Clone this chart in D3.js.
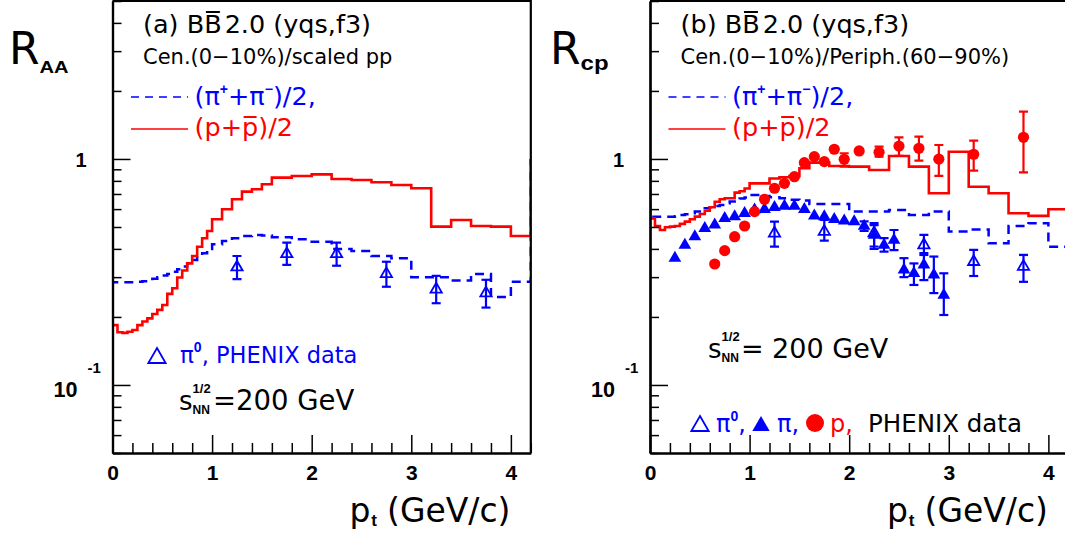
<!DOCTYPE html>
<html><head><meta charset="utf-8">
<script src="https://cdn.jsdelivr.net/npm/d3@7"></script>
<style>body{margin:0;background:#fff}svg{display:block}</style>
</head><body>
<svg id="c" width="1065" height="537"></svg>
<script>
// ---------------- DATA ----------------
const binEdges = [0,0.05,0.1,0.15,0.2,0.25,0.3,0.35,0.4,0.45,0.5,0.55,0.6,0.65,0.7,0.75,0.8,0.85,0.9,0.95,
  1.0,1.1,1.2,1.3,1.4,1.5,1.6,1.8,2.0,2.2,2.4,2.6,2.8,3.0,3.2,3.4,3.6,3.8,4.0,4.2];
// (a) R_AA model histograms
const raaProton = [0.184,0.171,0.170,0.172,0.175,0.184,0.191,0.197,0.206,0.215,0.226,0.253,0.268,0.299,0.321,0.345,0.372,0.409,0.446,0.48,
  0.541,0.599,0.663,0.717,0.734,0.773,
  0.827,0.841,0.855,0.816,0.807,0.789,0.767,0.742,0.502,0.537,0.505,0.502,0.456];
const raaPion = [0.285,0.285,0.285,0.285,0.285,0.286,0.288,0.29,0.295,0.30,0.305,0.31,0.317,0.325,0.334,0.345,0.357,0.37,0.383,0.40,
  0.419,0.433,0.446,0.456,0.461,0.458,
  0.45,0.441,0.43,0.40,0.392,0.372,0.364,0.30,0.30,0.29,0.31,0.245,0.286];
// (b) R_cp model histograms
const rcpProton = [0.546,0.505,0.485,0.499,0.502,0.505,0.516,0.528,0.541,0.556,0.571,0.59,0.611,0.647,0.663,0.67,0.67,0.71,0.72,0.74,
  0.78,0.78,0.82,0.83,0.84,0.91,
  0.963,0.931,0.925,0.894,1.031,0.925,0.705,1.077,0.754,0.705,0.575,0.56,0.599];
const rcpPion = [0.555,0.555,0.555,0.555,0.555,0.558,0.565,0.57,0.575,0.585,0.595,0.605,0.611,0.62,0.626,0.637,0.648,0.659,0.668,0.675,
  0.693,0.686,0.677,0.67,0.66,0.655,
  0.632,0.632,0.585,0.585,0.595,0.565,0.585,0.477,0.487,0.4235,0.505,0.52,0.409];
// PHENIX pi0 data, R_AA
const pi0AaPt  = [1.25,1.75,2.25,2.75,3.25,3.75];
const pi0AaVal = [0.332,0.38,0.38,0.31,0.265,0.255];
const pi0AaLo  = [0.294,0.34,0.337,0.272,0.23,0.22];
const pi0AaHi  = [0.372,0.426,0.426,0.351,0.304,0.292];
// PHENIX pi0 data, R_cp
const pi0CpPt  = [1.25,1.75,2.25,2.75,3.25,3.75];
const pi0CpVal = [0.469,0.477,0.47,0.416,0.351,0.334];
const pi0CpLo  = [0.409,0.435,0.41,0.383,0.3035,0.286];
const pi0CpHi  = [0.528,0.537,0.52,0.461,0.396,0.376];
// PHENIX charged pion R_cp
const piCpPt  = [0.25,0.35,0.45,0.55,0.65,0.75,0.85,0.95,1.05,1.15,1.25,1.35,1.45,1.55,1.65,1.75,1.85,1.95,2.05,2.15,2.25,2.35,2.45,2.55,2.65,2.75,2.85,2.95];
const piCpVal = [0.364,0.416,0.453,0.493,0.511,0.546,0.556,0.575,0.595,0.599,0.611,0.619,0.619,0.599,0.56,0.556,0.541,0.533,0.528,0.505,0.461,0.416,0.438,0.323,0.312,0.34,0.307,0.25];
const piCpLo  = [null,null,null,null,null,null,null,null,null,null,null,null,null,null,null,null,null,null,null,0.48,0.40,0.389,0.395,0.30,0.277,0.291,0.255,0.204];
const piCpHi  = [null,null,null,null,null,null,null,null,null,null,null,null,null,null,null,null,null,null,null,0.53,0.51,0.446,0.485,0.364,0.345,0.376,0.37,0.312];
// PHENIX proton R_cp
const pCpPt  = [0.65,0.75,0.85,0.95,1.05,1.15,1.25,1.35,1.45,1.55,1.65,1.75,1.85,1.95,2.1,2.3,2.5,2.7,2.9,3.25,3.75];
const pCpVal = [0.343,0.393,0.453,0.505,0.585,0.663,0.742,0.78,0.835,0.963,1.024,0.973,1.104,0.997,1.085,1.07,1.14,1.115,0.998,1.049,1.247];
const pCpLo  = [null,null,null,null,null,null,null,null,null,null,null,null,null,0.925,null,1.024,1.031,0.983,0.841,0.888,0.873];
const pCpHi  = [null,null,null,null,null,null,null,null,null,null,null,null,null,1.06,null,1.133,1.247,1.255,1.153,1.205,1.62];
// axis ticks
const xMajor = [0,1,2,3,4];
const xMinor = [0.2,0.4,0.6,0.8,1.2,1.4,1.6,1.8,2.2,2.4,2.6,2.8,3.2,3.4,3.6,3.8,4.2];
const yMajor = [0.1,1];
const yMinor = [0.05,0.06,0.07,0.08,0.09,0.2,0.3,0.4,0.5,0.6,0.7,0.8,0.9,2,3,4,5];

// ---------------- DRAW ----------------
const svg = d3.select('#c');
const FONT = 'DejaVu Sans';
const BFONT = 'Liberation Sans';
const RED = '#ff0000', BLUE = '#0000ff';
const defs = svg.append('defs');

function rich(parent, x, y, parts, anchor) {
  const g = parent.append('g');
  let cx = 0;
  parts.forEach(p => {
    if (p.gap !== undefined) { cx += p.gap; return; }
    const px = cx + (p.dx || 0);
    const t = g.append('text').attr('x', px).attr('y', p.dy || 0)
      .style('font-family', p.family || FONT).style('font-size', p.size + 'px')
      .style('font-weight', p.bold ? 'bold' : 'normal').attr('fill', p.fill || '#000').text(p.t);
    if (p.len) t.attr('textLength', p.len).attr('lengthAdjust', 'spacingAndGlyphs');
    const w = p.len || t.node().getComputedTextLength();
    if (p.bar !== undefined) g.append('line').attr('x1', px + w * 0.1).attr('x2', px + w * 0.9)
      .attr('y1', p.bar).attr('y2', p.bar).attr('stroke', p.fill || '#000').attr('stroke-width', 2);
    if (!p.noAdv) cx = px + w;
  });
  g.attr('transform', `translate(${anchor === 'end' ? x - cx : x},${y})`);
  return g;
}

function label(x, y, txt, size, len) {
  const t = svg.append('text').attr('x', x).attr('y', y)
    .style('font-family', BFONT).style('font-weight', 'bold').style('font-size', size + 'px')
    .attr('fill', '#000').text(txt);
  if (len) t.attr('textLength', len).attr('lengthAdjust', 'spacingAndGlyphs');
}

function histPoints(vals) {
  const pts = [[binEdges[0], 1]];
  vals.forEach((v, i) => { pts.push([binEdges[i], v]); pts.push([binEdges[i + 1], v]); });
  pts.push([binEdges[binEdges.length - 1], 1]);
  return pts;
}

function errBars(g, x, y, pts, vals, lo, hi, color) {
  pts.forEach((p, i) => {
    if (lo[i] == null) return;
    const xx = x(p);
    g.append('line').attr('x1', xx).attr('x2', xx).attr('y1', y(lo[i])).attr('y2', y(hi[i])).attr('stroke', color).attr('stroke-width', 2.2);
    [lo[i], hi[i]].forEach(v => g.append('line').attr('x1', xx - 4.5).attr('x2', xx + 4.5).attr('y1', y(v)).attr('y2', y(v)).attr('stroke', color).attr('stroke-width', 2.2));
  });
}

function panel(id, x0, cfg) {
  const x = d3.scaleLinear().domain([0, 4.2]).range([x0, x0 + 418.3]);
  const y = d3.scaleLog().domain([0.05, 5]).range([453, 1]);
  defs.append('clipPath').attr('id', 'clip' + id).append('rect')
    .attr('x', x0).attr('y', 1).attr('width', 418.3).attr('height', 452);
  const dg = svg.append('g').attr('clip-path', `url(#clip${id})`);
  const line = d3.line().x(d => x(d[0])).y(d => y(d[1]));
  dg.append('path').attr('d', line(histPoints(cfg.pion))).attr('fill', 'none')
    .attr('stroke', BLUE).attr('stroke-width', 2.5).attr('stroke-dasharray', '9,6');
  dg.append('path').attr('d', line(histPoints(cfg.proton))).attr('fill', 'none')
    .attr('stroke', RED).attr('stroke-width', 2.6);

  cfg.markers(dg, x, y);

  // axes (ticks inside the frame)
  const ax = svg.append('g').attr('class', 'axes');
  const yMaj = ax.append('g').attr('transform', `translate(${x0},0)`)
    .call(d3.axisLeft(y).tickValues(yMajor).tickSize(-18).tickSizeOuter(0).tickFormat(''));
  const yMin = ax.append('g').attr('transform', `translate(${x0},0)`)
    .call(d3.axisLeft(y).tickValues(yMinor).tickSize(-9).tickSizeOuter(0).tickFormat(''));
  const xMaj = ax.append('g').attr('transform', 'translate(0,453)')
    .call(d3.axisBottom(x).tickValues(xMajor).tickSize(-18).tickSizeOuter(0).tickPadding(12).tickFormat(d3.format('d')));
  const xMin = ax.append('g').attr('transform', 'translate(0,453)')
    .call(d3.axisBottom(x).tickValues(xMinor).tickSize(-10).tickSizeOuter(0).tickFormat(''));
  [yMaj, yMin, xMaj, xMin].forEach(a => {
    a.selectAll('.domain').attr('stroke', '#000').attr('stroke-width', 2.2);
    a.selectAll('.tick line').attr('stroke', '#000').attr('stroke-width', 1.5);
  });
  xMaj.selectAll('.tick text').style('font-family', BFONT).style('font-weight', 'bold')
    .style('font-size', '21px').attr('fill', '#000');
  // frame top + right
  ax.append('path').attr('d', `M${x(0)},${y(5)}H${x(4.2)}V${y(0.05)}`)
    .attr('fill', 'none').attr('stroke', '#000').attr('stroke-width', 2.2);

  // y labels (start-anchored at measured positions)
  label(x0 - 37, y(1) + 8, '1', 20);
  label(x0 - 59, y(0.1) + 12, '10', 22, 24);
  label(x0 - 25, y(0.1) - 12, '-1', 15);

  // x title
  rich(svg, x0 + 398, 522, [
    { t: 'p', size: 33 }, { t: 't', size: 17, bold: true, family: BFONT, dy: 4, dx: 1 },
    { gap: 10 }, { t: '(GeV/c)', size: 33 }], 'end');

  // titles
  rich(svg, x0 + 30.5, 33, [{ t: cfg.tag + ' B', size: 25.5 }, { t: 'B', size: 25.5, bar: -21 }, { t: '2.0 (yqs,f3)', size: 25.5, dx: 3 }]);
  rich(svg, x0 + 30.5, 64, [{ t: cfg.sub, size: 21 }]);

  // legend
  svg.append('line').attr('x1', x0 + 18.5).attr('x2', x0 + 75.5).attr('y1', 97).attr('y2', 97)
    .attr('stroke', BLUE).attr('stroke-width', 1.5).attr('stroke-dasharray', '8,6');
  svg.append('line').attr('x1', x0 + 18.5).attr('x2', x0 + 75.5).attr('y1', 129).attr('y2', 129)
    .attr('stroke', RED).attr('stroke-width', 1.5);
  rich(svg, x0 + 82, 105, [
    { t: '(\u03c0', size: 25.5, fill: BLUE }, { t: '+', size: 14, bold: true, dy: -11, fill: BLUE, family: BFONT },
    { t: '+\u03c0', size: 25.5, fill: BLUE }, { t: '\u2212', size: 14, bold: true, dy: -11, fill: BLUE, family: BFONT },
    { t: ')/2,', size: 25.5, fill: BLUE }]);
  rich(svg, x0 + 82, 136, [
    { t: '(p+', size: 25.5, fill: RED }, { t: 'p', size: 25.5, fill: RED, bar: -19 }, { t: ' )/2', size: 25.5, fill: RED }]);

  cfg.extra(x, y);
}

function openTri(g, cx, cy, size, color) {
  g.append('path').attr('d', d3.symbol(d3.symbolTriangle, size)()).attr('transform', `translate(${cx},${cy})`)
    .attr('fill', 'none').attr('stroke', color).attr('stroke-width', 1.8);
}
function fillTri(g, cx, cy, size, color) {
  g.append('path').attr('d', d3.symbol(d3.symbolTriangle, size)()).attr('transform', `translate(${cx},${cy})`)
    .attr('fill', color);
}

// R labels
rich(svg, 9, 64, [{ t: 'R', size: 44 }, { t: 'AA', size: 16, bold: true, family: BFONT, dy: 9, len: 29 }]);
rich(svg, 550, 64, [{ t: 'R', size: 44 }, { t: 'cp', size: 21, bold: true, family: BFONT, dy: 6, len: 28 }]);

panel('a', 112.5, {
  tag: '(a)', sub: 'Cen.(0\u221210%)/scaled pp',
  pion: raaPion, proton: raaProton,
  markers: (g, x, y) => {
    errBars(g, x, y, pi0AaPt, pi0AaVal, pi0AaLo, pi0AaHi, BLUE);
    pi0AaPt.forEach((p, i) => openTri(g, x(p), y(pi0AaVal[i]), 55, BLUE));
  },
  extra: (x, y) => {
    openTri(svg, 157, 358, 130, BLUE);
    rich(svg, 180, 363, [{ t: '\u03c0', size: 23, fill: BLUE }, { t: '0', size: 14, bold: true, dy: -11, fill: BLUE, family: BFONT },
      { t: ', PHENIX data', size: 22.5, fill: BLUE }]);
    rich(svg, 179, 410, [{ t: 's', size: 26 }, { t: '1/2', size: 13, bold: true, family: BFONT, dy: -17, noAdv: true },
      { t: 'NN', size: 12, bold: true, family: BFONT, dy: 4 }, { t: '=200 GeV', size: 27.5, dx: 3 }]);
  }
});

panel('b', 650, {
  tag: '(b)', sub: 'Cen.(0\u221210%)/Periph.(60\u221290%)',
  pion: rcpPion, proton: rcpProton,
  markers: (g, x, y) => {
    errBars(g, x, y, pi0CpPt, pi0CpVal, pi0CpLo, pi0CpHi, BLUE);
    errBars(g, x, y, piCpPt, piCpVal, piCpLo, piCpHi, BLUE);
    errBars(g, x, y, pCpPt, pCpVal, pCpLo, pCpHi, RED);
    pi0CpPt.forEach((p, i) => openTri(g, x(p), y(pi0CpVal[i]), 55, BLUE));
    piCpPt.forEach((p, i) => fillTri(g, x(p), y(piCpVal[i]), 70, BLUE));
    pCpPt.forEach((p, i) => g.append('circle').attr('cx', x(p)).attr('cy', y(pCpVal[i])).attr('r', 5.6).attr('fill', RED));
  },
  extra: (x, y) => {
    rich(svg, 708, 358, [{ t: 's', size: 26 }, { t: '1/2', size: 13, bold: true, family: BFONT, dy: -17, noAdv: true },
      { t: 'NN', size: 12, bold: true, family: BFONT, dy: 4 }, { t: ' = 200 GeV', size: 27, dx: 2 }]);
    openTri(svg, 700, 426, 130, BLUE);
    rich(svg, 716, 432, [{ t: '\u03c0', size: 24, fill: BLUE }, { t: '0', size: 14, bold: true, dy: -11, fill: BLUE, family: BFONT },
      { t: ',', size: 24, fill: BLUE }]);
    fillTri(svg, 761, 426, 130, BLUE);
    rich(svg, 777, 432, [{ t: '\u03c0,', size: 24, fill: BLUE }]);
    svg.append('circle').attr('cx', 815).attr('cy', 423).attr('r', 9).attr('fill', RED);
    rich(svg, 830, 432, [{ t: 'p,', size: 24, fill: RED }]);
    rich(svg, 1022, 432, [{ t: 'PHENIX data', size: 24.5 }], 'end');
  }
});
</script>
</body></html>
